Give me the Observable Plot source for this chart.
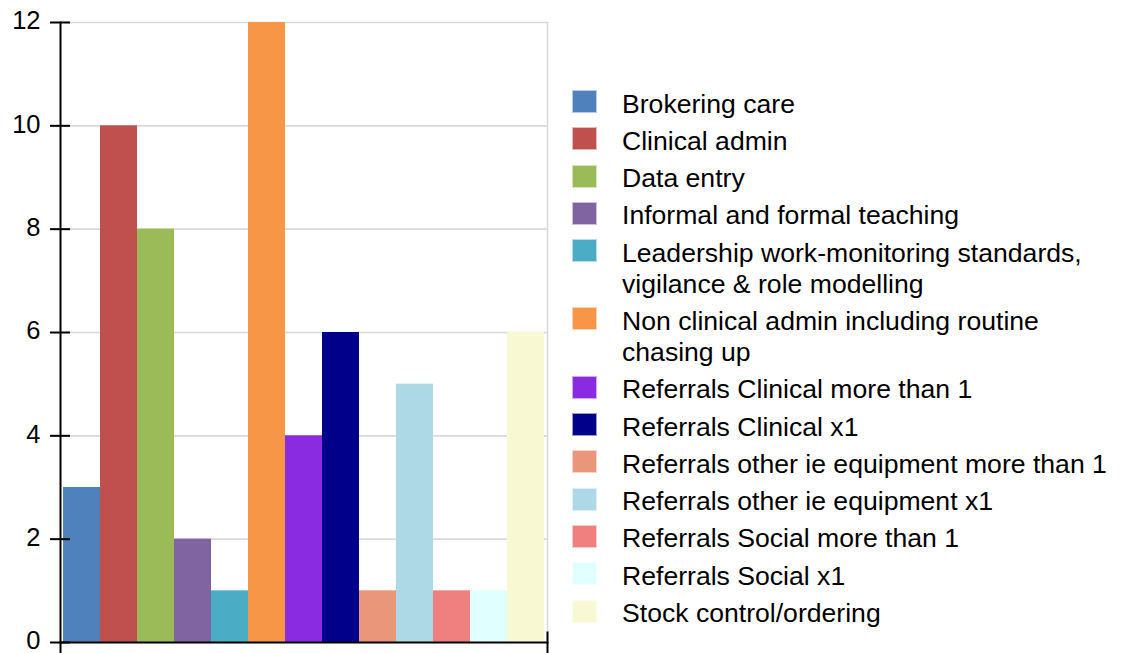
<!DOCTYPE html>
<html>
<head>
<meta charset="utf-8">
<script src="https://cdn.jsdelivr.net/npm/d3@7"></script>
<script src="https://cdn.jsdelivr.net/npm/@observablehq/plot@0.6"></script>
<style>
  html, body { margin: 0; padding: 0; background: #fff; }
  #wrap { position: relative; width: 1122px; height: 653px; font-family: "Liberation Sans", Arial, sans-serif; }
  #chart { position: absolute; left: 0; top: 0; }
  #legend { position: absolute; left: 572px; top: 88.5px; font-size: 26.6px; color: #000; }
  .item { display: flex; align-items: flex-start; margin-bottom: 6.3px; }
  .sw { width: 25px; height: 23px; margin-top: 1.5px; margin-right: 25px; flex: none; box-sizing: border-box; border: 0.5px solid rgba(255,255,255,0.6); }
  .lbl { line-height: 31px; white-space: nowrap; }
</style>
</head>
<body>
<div id="wrap">
  <div id="chart"></div>
  <div id="legend"></div>
</div>
<script>
const categories = [
  "Brokering care",
  "Clinical admin",
  "Data entry",
  "Informal and formal teaching",
  "Leadership work-monitoring standards, vigilance & role modelling",
  "Non clinical admin including routine chasing up",
  "Referrals Clinical more than 1",
  "Referrals Clinical x1",
  "Referrals other ie equipment more than 1",
  "Referrals other ie equipment x1",
  "Referrals Social more than 1",
  "Referrals Social x1",
  "Stock control/ordering"
];
const legendLines = [
  ["Brokering care"],
  ["Clinical admin"],
  ["Data entry"],
  ["Informal and formal teaching"],
  ["Leadership work-monitoring standards,", "vigilance & role modelling"],
  ["Non clinical admin including routine", "chasing up"],
  ["Referrals Clinical more than 1"],
  ["Referrals Clinical x1"],
  ["Referrals other ie equipment more than 1"],
  ["Referrals other ie equipment x1"],
  ["Referrals Social more than 1"],
  ["Referrals Social x1"],
  ["Stock control/ordering"]
];
const values = [3, 10, 8, 2, 1, 12, 4, 6, 1, 5, 1, 1, 6];
const colors = [
  "#4f81bd", "#c0504d", "#9bbb59", "#8064a2", "#4bacc6", "#f79646",
  "#8a2be2", "#00008b", "#e9967a", "#add8e6", "#f08080", "#e0ffff", "#f8f8d2"
];
const yTicks = [0, 2, 4, 6, 8, 10, 12];

const data = categories.map((c, i) => ({category: c, value: values[i]}));

const plot = Plot.plot({
  width: 1122,
  height: 653,
  marginLeft: 60,
  marginRight: 575,
  marginTop: 22,
  marginBottom: 11,
  style: {fontFamily: "'Liberation Sans', Arial, sans-serif", background: "transparent"},
  x: {type: "band", domain: categories, padding: 0, axis: null},
  y: {domain: [0, 12], axis: null},
  color: {type: "ordinal", domain: categories, range: colors},
  marks: [
    Plot.ruleY(yTicks.filter(d => d > 0), {stroke: "#d9d9d9", strokeWidth: 1.6}),
    Plot.frame({anchor: "right", stroke: "#d9d9d9", strokeWidth: 1.6}),
    Plot.barY(data, {x: "category", y: "value", fill: "category"}),
    Plot.axisY(yTicks, {tickSize: 0, tickPadding: 20, dy: -1.5, fontSize: 25.5, tickFormat: d => String(d), label: null, fill: "#000"}),
    Plot.axisY(yTicks, {tickSize: 20, dx: 10, tickFormat: () => "", stroke: "#000", strokeWidth: 2, label: null}),
    Plot.frame({anchor: "left", stroke: "#000", strokeWidth: 2, insetBottom: -10}),
    Plot.frame({anchor: "bottom", stroke: "#000", strokeWidth: 2}),
    Plot.frame({anchor: "right", stroke: "#000", strokeWidth: 2, insetTop: 610, insetBottom: -10})
  ]
});
document.getElementById("chart").appendChild(plot);

const legend = d3.select("#legend");
legendLines.forEach((lines, i) => {
  const item = legend.append("div").attr("class", "item");
  item.append("div").attr("class", "sw").style("background", colors[i]);
  item.append("div").attr("class", "lbl").html(lines.join("<br>"));
});
</script>
</body>
</html>
